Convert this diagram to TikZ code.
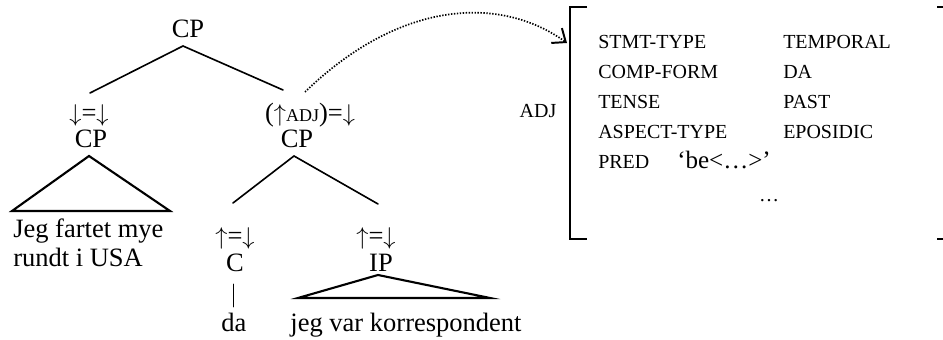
\documentclass[tikz,border=0pt]{standalone}
\usepackage{fontspec, tkz-euclide}
\setmainfont{Liberation Serif}
\usetikzlibrary{arrows.meta}

\newcommand{\up}{$\uparrow$}
\newcommand{\dn}{$\downarrow$}

\begin{document}
\begin{tikzpicture}[
    cat/.style = {font=\fontsize{18.85}{22}\selectfont, anchor=base, inner sep=0pt},
    feat/.style = {font=\fontsize{14.2}{17}\selectfont, anchor=base west, inner sep=0pt},
    branch/.style = {line width=1.15pt},
    roof/.style = {line width=1.5pt, line join=miter}]
    \useasboundingbox (0,0) rectangle (23.575,8.5);
    % c-structure
    \tkzDefPoints{4.575/7.35/T, 2.25/6.175/A, 7.075/6.25/B}
    \tkzDefPoints{2.225/4.6/L, 0.3/3.225/L1, 4.25/3.225/L2}
    \tkzDefPoints{7.35/4.6/R, 5.825/3.425/R1, 9.45/3.4/R2}
    \tkzDefPoints{9.45/1.625/I, 7.45/1.05/I1, 12.25/1.05/I2}
    \tkzDefPoints{5.825/1.4/C1, 5.825/0.825/C2}
    \tkzDrawSegments[branch](T,A T,B R,R1 R,R2)
    \tkzDrawSegment[line width=0.6pt](C1,C2)
    \tkzDrawPolygon[roof](L,L1,L2)
    \tkzDrawPolygon[roof](I,I1,I2)
    \node (cp0) at (4.7,7.5575) [cat] {CP};
    \node (ann1) at (2.225,5.45) [cat] {\dn=\dn};
    \node (cp1) at (2.275,4.8) [cat] {CP};
    \node (ann2) at (7.75,5.45) [cat] {(\up{\fontsize{12.8}{15}\selectfont ADJ})=\dn};
    \node (cp2) at (7.425,4.8) [cat] {CP};
    \node (jeg1) at (0.325,2.55) [cat, anchor=base west] {Jeg fartet mye};
    \node (jeg2) at (0.325,1.825) [cat, anchor=base west] {rundt i USA};
    \node (ann3) at (5.875,2.375) [cat] {\up=\dn};
    \node (c) at (5.875,1.7) [cat] {C};
    \node (da) at (5.85,0.2) [cat] {da};
    \node (ann4) at (9.4,2.375) [cat] {\up=\dn};
    \node (ip) at (9.525,1.7) [cat] {IP};
    \node (jeg3) at (10.15,0.2) [cat] {jeg var korrespondent};
    % f-structure of the adjunct
    \tkzDefPoints{14.675/8.325/P1, 14.25/8.325/P2, 14.25/2.525/P3, 14.675/2.525/P4}
    \tkzDefPoints{23.425/8.325/Q1, 23.7/8.325/Q2, 23.7/2.525/Q3, 23.425/2.525/Q4}
    \draw[line width=1.4pt] (P1) -- (P2) -- (P3) -- (P4);
    \draw[line width=1.4pt] (Q1) -- (Q2) -- (Q3) -- (Q4);
    \node (adj) at (13.45,5.55) [feat, anchor=base] {ADJ};
    \node (a1) at (14.95,7.275) [feat] {STMT-TYPE};
    \node (v1) at (19.575,7.275) [feat] {TEMPORAL};
    \node (a2) at (14.95,6.525) [feat] {COMP-FORM};
    \node (v2) at (19.575,6.525) [feat] {DA};
    \node (a3) at (14.95,5.775) [feat] {TENSE};
    \node (v3) at (19.575,5.775) [feat] {PAST};
    \node (a4) at (14.95,5.025) [feat] {ASPECT-TYPE};
    \node (v4) at (19.575,5.025) [feat] {EPOSIDIC};
    \node (a5) at (14.95,4.275) [feat] {PRED};
    \node (v5) at (16.925,4.275) [feat, font=\fontsize{17.8}{20}\selectfont] {‘be<…>’};
    \node (more) at (19.225,3.45) [feat, anchor=base] {…};
    % projection from c- to f-structure
    \tkzDefPoints{7.625/6.2/D, 14.175/7.425/E}
    \draw[line width=1.2pt, dash pattern=on 1pt off 1.1pt,
          -{Straight Barb[length=8pt, width=13pt, line width=1.4pt]}]
        (D) .. controls (10,8.5) and (12.5,8.625) .. (E);
\end{tikzpicture}
\end{document}
